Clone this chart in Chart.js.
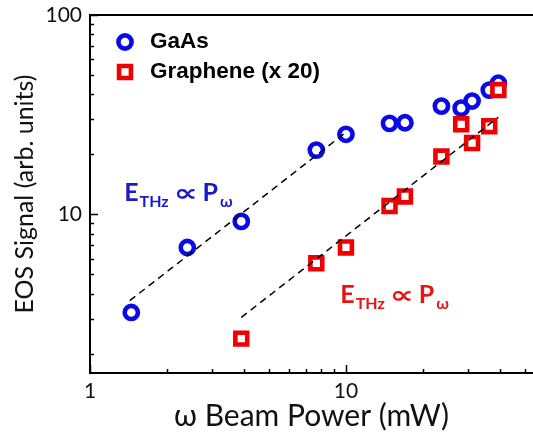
<!DOCTYPE html>
<html lang="en">
<head>
<meta charset="UTF-8">
<title>EOS Signal vs Beam Power</title>
<script src="https://cdn.jsdelivr.net/npm/chart.js"></script>
<style>
    html, body {
        margin: 0;
        padding: 0;
        background: #fff;
        overflow: hidden;
    }
    .chart-box {
        position: relative;
        width: 533px;
        height: 434px;
    }
</style>
</head>
<body>
<div class="chart-box"><canvas id="eosChart" width="533" height="434"></canvas></div>
<script>
// values
const gaasPower = [1.45, 2.40, 3.90, 7.66, 10.0, 14.8, 17.0, 23.6, 28.2, 31.1, 36.3, 39.4];
const gaasSignal = [3.22, 6.82, 9.22, 21.0, 25.2, 28.6, 28.8, 34.9, 34.1, 37.0, 42.0, 45.5];
const graphenePower = [3.90, 7.66, 10.0, 14.8, 17.0, 23.6, 28.2, 31.1, 36.3, 39.4];
const grapheneSignal = [2.38, 5.68, 6.82, 11.0, 12.3, 19.5, 28.3, 22.8, 27.7, 42.0];

// linear (slope 1) guide lines
const gaasFitPower = [1.43, 10];
const gaasFitSignal = [3.69, 25.8];
const grapheneFitPower = [3.9, 39.4];
const grapheneFitSignal = [3.04, 30.7];

const xTickLabels = [1, 10];
const yTickLabels = [10, 100];
const xMinorTicks = [2, 3, 4, 5, 6, 7, 8, 9, 20, 30, 40, 50];
const yMinorTicks = [2, 3, 4, 5, 6, 7, 8, 9, 20, 30, 40, 50, 60, 70, 80, 90];

const BLUE = '#0a0ae8';
const RED = '#f00000';
const BLUE_TEXT = '#1a1ac8';
const RED_TEXT = '#e81414';

const toPoints = (xs, ys) => xs.map((v, i) => ({ x: v, y: ys[i] }));

// axis frame (open on the right, the plot runs off the edge) + inward ticks
const boxAndTicks = {
    id: 'boxAndTicks',
    beforeDatasetsDraw(chart) {
        const { ctx, chartArea: a, scales: { x, y } } = chart;
        ctx.save();
        ctx.strokeStyle = '#000';
        ctx.lineWidth = 2;
        ctx.beginPath();
        ctx.moveTo(a.right + 2, a.top);
        ctx.lineTo(a.left, a.top);
        ctx.lineTo(a.left, a.bottom);
        ctx.lineTo(a.right + 2, a.bottom);
        ctx.stroke();
        ctx.lineWidth = 1.5;
        ctx.beginPath();
        xTickLabels.forEach(v => {
            const px = Math.round(x.getPixelForValue(v)) + 0.5;
            ctx.moveTo(px, a.bottom); ctx.lineTo(px, a.bottom - 8);
        });
        xMinorTicks.forEach(v => {
            const px = Math.round(x.getPixelForValue(v)) + 0.5;
            ctx.moveTo(px, a.bottom); ctx.lineTo(px, a.bottom - 4);
        });
        yTickLabels.forEach(v => {
            const py = Math.round(y.getPixelForValue(v)) + 0.5;
            ctx.moveTo(a.left, py); ctx.lineTo(a.left + 8, py);
        });
        yMinorTicks.forEach(v => {
            const py = Math.round(y.getPixelForValue(v)) + 0.5;
            ctx.moveTo(a.left, py); ctx.lineTo(a.left + 4, py);
        });
        ctx.stroke();
        ctx.restore();
    }
};

function drawMarker(ctx, ds, cx, cy) {
    ctx.save();
    ctx.strokeStyle = ds.borderColor;
    ctx.fillStyle = ds.backgroundColor;
    ctx.lineWidth = ds.borderWidth;
    ctx.beginPath();
    if (ds.pointStyle === 'rect') {
        const s = Math.SQRT1_2 * ds.pointRadius;
        ctx.rect(cx - s, cy - s, 2 * s, 2 * s);
    } else {
        ctx.arc(cx, cy, ds.pointRadius, 0, Math.PI * 2);
    }
    ctx.fill();
    ctx.stroke();
    ctx.restore();
}

const legendBox = {
    id: 'legendBox',
    afterDraw(chart) {
        const { ctx, chartArea: a } = chart;
        const items = [chart.data.datasets[2], chart.data.datasets[3]];
        ctx.save();
        ctx.font = 'bold 22.5px "Liberation Sans", Arial, sans-serif';
        ctx.fillStyle = '#000';
        ctx.textBaseline = 'middle';
        items.forEach((ds, i) => {
            const cy = a.top + 27 + i * 30;
            drawMarker(ctx, ds, a.left + 35, cy);
            ctx.fillText(ds.label, a.left + 60, cy);
        });
        ctx.restore();
    }
};

// E_THz ∝ P_ω labels, anchored in data coordinates
const powerLaw = {
    id: 'powerLaw',
    afterDraw(chart, args, opts) {
        const { ctx, scales: { x, y } } = chart;
        const big = 'bold 25px Lato, "Open Sans", sans-serif';
        const small = 'bold 16px Lato, "Open Sans", sans-serif';
        const sym = 'bold 24px "DejaVu Sans", sans-serif';
        opts.labels.forEach(l => {
            let px = x.getPixelForValue(l.at[0]);
            const py = y.getPixelForValue(l.at[1]);
            const parts = [
                { t: 'E', f: big, dy: 0, gap: 1, sx: 1 },
                { t: 'THz', f: small, dy: 6, gap: 5, sx: 1 },
                { t: '\u221D', f: sym, dy: 0, gap: 5, sx: 1.4 },
                { t: 'P', f: big, dy: 0, gap: 2, sx: 1 },
                { t: '\u03C9', f: small, dy: 6, gap: 0, sx: 1 }
            ];
            ctx.save();
            ctx.fillStyle = l.color;
            ctx.textBaseline = 'alphabetic';
            parts.forEach(p => {
                ctx.font = p.f;
                ctx.save();
                ctx.translate(px, py + p.dy);
                ctx.scale(p.sx, 1);
                ctx.fillText(p.t, 0, 0);
                ctx.restore();
                px += ctx.measureText(p.t).width * p.sx + p.gap;
            });
            ctx.restore();
        });
    }
};

new Chart(document.getElementById('eosChart'), {
    type: 'scatter',
    data: {
        datasets: [
            {
                label: 'GaAs fit',
                data: toPoints(gaasFitPower, gaasFitSignal),
                showLine: true,
                borderColor: '#000',
                borderWidth: 1.5,
                borderDash: [7, 5],
                pointRadius: 0,
                order: 0
            },
            {
                label: 'Graphene fit',
                data: toPoints(grapheneFitPower, grapheneFitSignal),
                showLine: true,
                borderColor: '#000',
                borderWidth: 1.5,
                borderDash: [7, 5],
                pointRadius: 0,
                order: 0
            },
            {
                label: 'GaAs',
                data: toPoints(gaasPower, gaasSignal),
                pointStyle: 'circle',
                pointRadius: 6.6,
                borderWidth: 4.6,
                borderColor: BLUE,
                backgroundColor: 'rgba(255,255,255,0)',
                order: 2
            },
            {
                label: 'Graphene (x 20)',
                data: toPoints(graphenePower, grapheneSignal),
                pointStyle: 'rect',
                pointRadius: 8.4,
                borderWidth: 4.6,
                borderColor: RED,
                backgroundColor: '#fff',
                order: 1
            }
        ]
    },
    options: {
        responsive: false,
        animation: false,
        layout: { autoPadding: false, padding: { top: 15, right: 0, left: 0, bottom: 0 } },
        plugins: {
            legend: { display: false },
            tooltip: { enabled: false },
            powerLaw: {
                labels: [
                    { at: [1.36, 11.6], color: BLUE_TEXT },
                    { at: [9.5, 3.6], color: RED_TEXT }
                ]
            }
        },
        scales: {
            x: {
                type: 'logarithmic',
                min: 1,
                max: 53.8,
                grid: { display: false, drawTicks: false, tickLength: 0 },
                border: { display: false },
                afterFit: s => {
                    s.height = 61;
                    s.paddingLeft = 0;
                    s.paddingRight = 0;
                },
                afterBuildTicks: s => { s.ticks = xTickLabels.map(v => ({ value: v })); },
                ticks: {
                    autoSkip: false,
                    maxRotation: 0,
                    padding: 6,
                    color: '#111',
                    font: { family: 'Lato, "Open Sans", sans-serif', size: 21 },
                    callback: v => String(v)
                },
                title: {
                    display: true,
                    text: '\u03C9 Beam Power (mW)',
                    color: '#111',
                    font: { family: 'Lato, "Open Sans", sans-serif', size: 30 },
                    padding: { top: 0, bottom: 0 }
                }
            },
            y: {
                type: 'logarithmic',
                min: 1.6,
                max: 100,
                grid: { display: false, drawTicks: false, tickLength: 0 },
                border: { display: false },
                afterFit: s => {
                    s.width = 90;
                    s.paddingTop = 0;
                    s.paddingBottom = 0;
                },
                afterBuildTicks: s => { s.ticks = yTickLabels.map(v => ({ value: v })); },
                ticks: {
                    autoSkip: false,
                    padding: 8,
                    color: '#111',
                    font: { family: 'Lato, "Open Sans", sans-serif', size: 21 },
                    callback: v => String(v)
                },
                title: {
                    display: true,
                    text: 'EOS Signal (arb. units)',
                    color: '#111',
                    font: { family: 'Lato, "Open Sans", sans-serif', size: 25 },
                    padding: { top: 10, bottom: 0 }
                }
            }
        }
    },
    plugins: [boxAndTicks, legendBox, powerLaw]
});
</script>
</body>
</html>
